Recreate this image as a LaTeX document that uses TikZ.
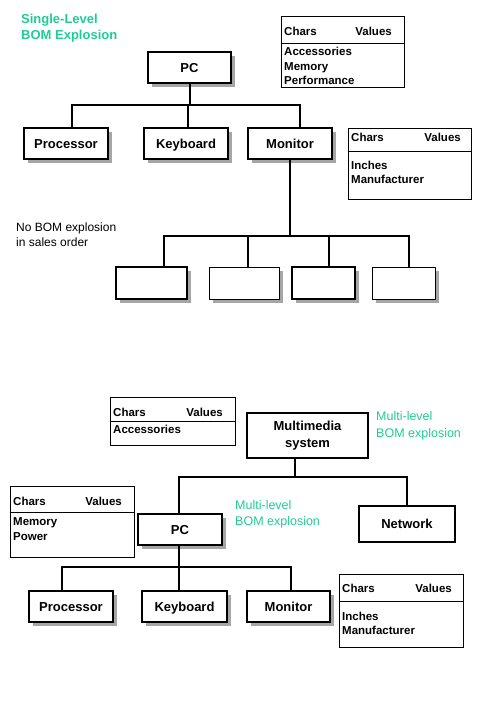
\documentclass[tikz,border=0pt]{standalone}
\usepackage{fontspec}
\setmainfont{Liberation Sans}
\usetikzlibrary{shadows}
\definecolor{bomgreen}{RGB}{30,204,150}

\begin{document}
\begin{tikzpicture}[
  x=1pt, y=-1pt,
  every node/.style = {inner sep=0pt},
  part/.style = {draw, fill=white, line width=1.3pt, minimum height=31pt,
    font=\fontsize{13}{15}\selectfont\bfseries, text height=9.3pt, text depth=0pt},
  shade/.style = {drop shadow={shadow xshift=4pt, shadow yshift=-4pt, fill=black!35, opacity=1}},
  heavy/.style = {line width=2.3pt},
  light/.style = {line width=0.9pt},
  charsbox/.style = {draw, line width=0.8pt},
  chartxt/.style = {font=\fontsize{11.5}{14.5}\selectfont\bfseries},
  note/.style = {anchor=north west, align=left, font=\fontsize{12.5}{16.5}\selectfont},
  wire/.style = {draw, line width=2pt}
]
  \useasboundingbox (0,0) rectangle (477,708);

  % single-level explosion
  \node[note, text=bomgreen, font=\fontsize{13}{16.5}\selectfont\bfseries] (slnote) at (21,13.8) {Single-Level\\BOM Explosion};
  \node[part, shade, minimum width=83pt] (pc) at (189.5,67.5) {PC};
  \node[part, shade, minimum width=84pt] (proc) at (66,143.5) {Processor};
  \node[part, shade, minimum width=84pt] (kbd) at (186,143.5) {Keyboard};
  \node[part, shade, minimum width=84pt] (mon) at (290,143.5) {Monitor};

  \coordinate (j1) at (72,105);
  \coordinate (j2) at (188,105);
  \coordinate (j3) at (300,105);
  \draw[wire] (pc.south) -- (pc.south |- j2);
  \draw[wire] (proc.north -| j1) -- (j1) -- (j3) -- (mon.north -| j3);
  \draw[wire] (kbd.north -| j2) -- (j2);

  \node[note, font=\fontsize{12}{15}\selectfont] (nonote) at (16,222.4) {No BOM explosion\\in sales order};
  \node[part, shade, heavy, minimum width=71pt, minimum height=32pt] (b1) at (151.5,283) {};
  \node[part, shade, light, minimum width=70pt, minimum height=32pt] (b2) at (244,283) {};
  \node[part, shade, heavy, minimum width=63pt, minimum height=32pt] (b3) at (323.5,283) {};
  \node[part, shade, light, minimum width=63pt, minimum height=32pt] (b4) at (403.5,283) {};

  \coordinate (k1) at (164,236);
  \coordinate (k2) at (248,236);
  \coordinate (k3) at (329,236);
  \coordinate (k4) at (409,236);
  \draw[wire] (mon.south) -- (mon.south |- k1);
  \draw[wire] (b1.north -| k1) -- (k1) -- (k4) -- (b4.north -| k4);
  \draw[wire] (b2.north -| k2) -- (k2);
  \draw[wire] (b3.north -| k3) -- (k3);

  % characteristics of the single-level PC
  \node[charsbox, minimum width=123pt, minimum height=71pt] (chpc) at (342.5,51.5) {};
  \draw[charsbox] ([yshift=-28pt]chpc.north west) -- ([yshift=-28pt]chpc.north east);
  \node[chartxt, anchor=base west] (chpch) at (284,35.1) {Chars};
  \node[chartxt, anchor=base east] (chpcv) at (392,35.1) {Values};
  \node[chartxt, anchor=north west, align=left] (chpcb) at (284,47.2) {Accessories\\Memory\\Performance};

  \node[charsbox, minimum width=123pt, minimum height=71pt] (chmon) at (409.5,163.5) {};
  \draw[charsbox] ([yshift=-24pt]chmon.north west) -- ([yshift=-24pt]chmon.north east);
  \node[chartxt, anchor=base west] (chmonh) at (351,141.8) {Chars};
  \node[chartxt, anchor=base east] (chmonv) at (461,141.8) {Values};
  \node[chartxt, anchor=north west, align=left] (chmonb) at (351,160.8) {Inches\\Manufacturer};

  % multi-level explosion
  \node[part, heavy, minimum width=121pt, minimum height=45pt, align=center, text height=, text depth=,
    font=\fontsize{13}{17}\selectfont\bfseries] (mm) at (307.5,435.5) {Multimedia\\system};
  \node[note, text=bomgreen] (mlnote) at (376,411.5) {Multi-level\\BOM explosion};
  \node[part, shade, minimum width=84pt] (pc2) at (180,529.5) {PC};
  \node[part, heavy, minimum width=96pt, minimum height=36pt] (net) at (407,524) {Network};
  \node[note, text=bomgreen] (mlnote2) at (235,499.8) {Multi-level\\BOM explosion};

  \coordinate (m0) at (295,477);
  \coordinate (m1) at (179,477);
  \coordinate (m2) at (407,477);
  \draw[wire] (mm.south -| m0) -- (m0);
  \draw[wire] (pc2.north -| m1) -- (m1) -- (m2) -- (net.north -| m2);

  \node[part, shade, minimum width=84pt] (proc2) at (71,606.5) {Processor};
  \node[part, shade, minimum width=85pt] (kbd2) at (184.5,606.5) {Keyboard};
  \node[part, shade, minimum width=83pt] (mon2) at (288.5,606.5) {Monitor};

  \coordinate (n1) at (62,567);
  \coordinate (n2) at (179,567);
  \coordinate (n3) at (291,567);
  \draw[wire] (pc2.south -| n2) -- (n2);
  \draw[wire] (proc2.north -| n1) -- (n1) -- (n3) -- (mon2.north -| n3);
  \draw[wire] (kbd2.north -| n2) -- (n2);

  % characteristics of the multi-level structure
  \node[charsbox, minimum width=125pt, minimum height=48pt] (chmm) at (172.5,421) {};
  \draw[charsbox] ([yshift=-25pt]chmm.north west) -- ([yshift=-25pt]chmm.north east);
  \node[chartxt, anchor=base west] (chmmh) at (113,416.8) {Chars};
  \node[chartxt, anchor=base east] (chmmv) at (223,416.8) {Values};
  \node[chartxt, anchor=north west, align=left] (chmmb) at (113,425.2) {Accessories};

  \node[charsbox, minimum width=124pt, minimum height=71pt] (chpc2) at (72,521.5) {};
  \draw[charsbox] ([yshift=-27pt]chpc2.north west) -- ([yshift=-27pt]chpc2.north east);
  \node[chartxt, anchor=base west] (chpc2h) at (13,505.1) {Chars};
  \node[chartxt, anchor=base east] (chpc2v) at (122,505.1) {Values};
  \node[chartxt, anchor=north west, align=left] (chpc2b) at (13,517.5) {Memory\\Power};

  \node[charsbox, minimum width=124pt, minimum height=73pt] (chmon2) at (401,610.5) {};
  \draw[charsbox] ([yshift=-28pt]chmon2.north west) -- ([yshift=-28pt]chmon2.north east);
  \node[chartxt, anchor=base west] (chmon2h) at (342,592.4) {Chars};
  \node[chartxt, anchor=base east] (chmon2v) at (452,592.4) {Values};
  \node[chartxt, anchor=north west, align=left] (chmon2b) at (342,611.8) {Inches\\Manufacturer};
\end{tikzpicture}
\end{document}
